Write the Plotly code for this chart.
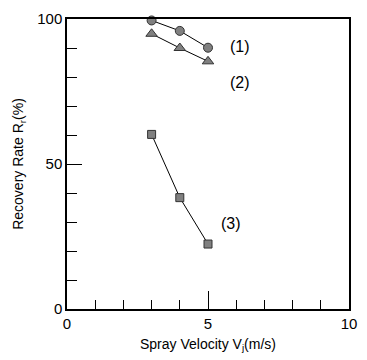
import plotly.graph_objects as go

velocity = [3, 4, 5]
rr_1 = [99.5, 95.9, 90.1]
rr_2 = [94.9, 90.0, 85.4]
rr_3 = [60.2, 38.4, 22.4]
series_labels = ["(1)", "(2)", "(3)"]
label_x = [6.15, 6.15, 5.8]
label_y = [90.5, 78.0, 29.5]

FONT = "Liberation Sans"
fig = go.Figure()
for ys, sym, sz in [(rr_1, "circle", 9), (rr_2, "triangle-up", 10), (rr_3, "square", 8)]:
    fig.add_trace(go.Scatter(
        x=velocity, y=ys, mode="lines+markers",
        line=dict(color="black", width=1),
        marker=dict(symbol=sym, size=sz, color="#808080",
                    line=dict(color="#333333", width=1)),
        showlegend=False, cliponaxis=False))

for t, xx, yy in zip(series_labels, label_x, label_y):
    fig.add_annotation(x=xx, y=yy, text=t, showarrow=False,
                       font=dict(family=FONT, size=16, color="black"))

fig.update_layout(
    width=367, height=360,
    margin=dict(l=67, r=10, t=15, b=51),
    paper_bgcolor="white", plot_bgcolor="white",
    font=dict(family=FONT, size=15, color="black"),
    xaxis=dict(range=[0, 10], tickvals=[0, 5, 10], ticks="inside", ticklen=18,
               tickwidth=1.2, tickcolor="black", showline=True, linecolor="black",
               linewidth=1.5, mirror=True, showgrid=False, zeroline=False,
               minor=dict(dtick=1, ticks="inside", ticklen=9, tickcolor="black", tickwidth=1.2, showgrid=False),
               title=dict(text="Spray Velocity V<sub>j</sub>(m/s)", standoff=8,
                          font=dict(family=FONT, size=14))),
    yaxis=dict(range=[0, 100], tickvals=[0, 50, 100], ticks="inside", ticklen=15,
               tickwidth=1.2, tickcolor="black", showline=True, linecolor="black",
               linewidth=1.5, mirror=True, showgrid=False, zeroline=False,
               minor=dict(dtick=10, ticks="inside", ticklen=10, tickcolor="black", tickwidth=1.2, showgrid=False),
               title=dict(text="Recovery Rate R<sub>r</sub>(%)", standoff=10,
                          font=dict(family=FONT, size=14))),
)
fig.write_html("out.html")
